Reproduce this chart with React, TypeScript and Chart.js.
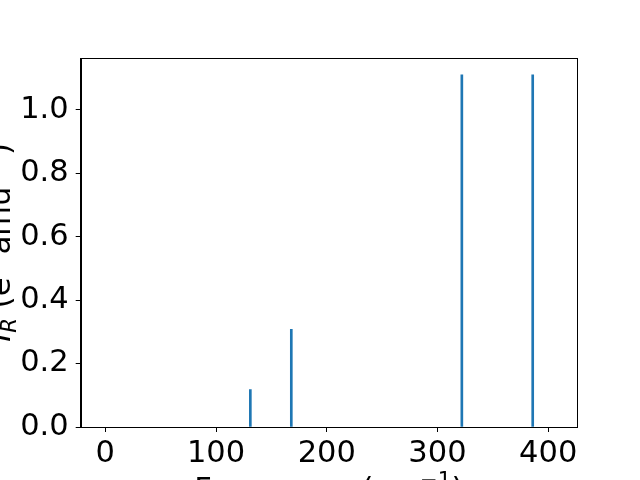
import React, { useEffect, useRef } from "react";
import { Chart, registerables } from "chart.js";

Chart.register(...registerables);

const frequencies = [131, 168, 322, 386];
const intensities = [0.118, 0.308, 1.11, 1.11];
const xTicks = [0, 100, 200, 300, 400];
const yTicks = [0, 0.2, 0.4, 0.6, 0.8, 1.0];
const xTitle = [
  { t: "Frequency (cm", m: "n" },
  { t: "\u22121", m: "sup" },
  { t: ")", m: "n" },
];
const yTitle = [
  { t: "I", m: "n", i: true },
  { t: "R", m: "sub", i: true },
  { t: " (e", m: "n" },
  { t: "2", m: "sup" },
  { t: " amu", m: "n" },
  { t: "\u22121", m: "sup" },
  { t: ")", m: "n" },
];

const FONT = "DejaVu Sans";
const FS = 30.5;

function segFont(s: any) {
  const size = s.m === "n" ? FS : FS * 0.7;
  return `${s.i ? "italic " : ""}${size}px "${FONT}"`;
}

function drawRich(ctx: CanvasRenderingContext2D, segs: any[], cx: number, baseY: number) {
  let total = 0;
  const widths = segs.map((s) => {
    ctx.font = segFont(s);
    const w = ctx.measureText(s.t).width;
    total += w;
    return w;
  });
  let x = cx - total / 2;
  ctx.textBaseline = "alphabetic";
  ctx.textAlign = "left";
  segs.forEach((s, i) => {
    ctx.font = segFont(s);
    let dy = 0;
    if (s.m === "sup") dy = -FS * 0.4;
    if (s.m === "sub") dy = FS * 0.2;
    ctx.fillText(s.t, x, baseY + dy);
    x += widths[i];
  });
}

const framePlugin = {
  id: "frame",
  afterDraw(chart: any) {
    const { ctx, chartArea: a } = chart;
    ctx.save();
    ctx.strokeStyle = "#000";
    ctx.lineWidth = 1;
    ctx.strokeRect(Math.round(a.left) + 0.5, Math.round(a.top) + 0.5, Math.round(a.right - a.left), Math.round(a.bottom - a.top));
    ctx.fillStyle = "#000";
    drawRich(ctx, xTitle, (a.left + a.right) / 2, 499);
    ctx.translate(10, (a.top + a.bottom) / 2);
    ctx.rotate(-Math.PI / 2);
    drawRich(ctx, yTitle, 0, 0);
    ctx.restore();
  },
};

export default function App() {
  const ref = useRef<HTMLCanvasElement | null>(null);
  useEffect(() => {
    const canvas = ref.current!;
    const chart = new Chart(canvas, {
      type: "bar",
      data: {
        datasets: [
          {
            data: frequencies.map((f, i) => ({ x: f, y: intensities[i] })),
            backgroundColor: "#1f77b4",
            borderWidth: 0,
            barThickness: 2,
          },
        ],
      },
      options: {
        animation: false,
        responsive: false,
        devicePixelRatio: 1,
        layout: { padding: { left: 0, top: 58, right: 63, bottom: 0 } },
        plugins: { legend: { display: false }, tooltip: { enabled: false } },
        scales: {
          x: {
            type: "linear",
            offset: false,
            min: -22.2,
            max: 426,
            afterBuildTicks: (s: any) => {
              s.ticks = xTicks.map((v) => ({ value: v }));
            },
            afterFit: (s: any) => {
              s.height = 53;
            },
            grid: { display: true, offset: false, drawOnChartArea: false, drawTicks: true, tickLength: 5, color: "#000", tickColor: "#000" },
            border: { display: true, color: "#000", width: 1 },
            ticks: { color: "#000", font: { family: FONT, size: FS }, padding: 4, maxRotation: 0, autoSkip: false, callback: (v: any) => String(v) },
          },
          y: {
            type: "linear",
            min: 0,
            max: 1.163,
            afterBuildTicks: (s: any) => {
              s.ticks = yTicks.map((v) => ({ value: v }));
            },
            afterFit: (s: any) => {
              s.width = 80.7;
            },
            grid: { display: true, offset: false, drawOnChartArea: false, drawTicks: true, tickLength: 5, color: "#000", tickColor: "#000" },
            border: { display: true, color: "#000", width: 1 },
            ticks: { color: "#000", font: { family: FONT, size: FS }, padding: 7, autoSkip: false, callback: (v: any) => Number(v).toFixed(1) },
          },
        },
      },
      plugins: [framePlugin],
    } as any);
    return () => chart.destroy();
  }, []);
  return (
    <div style={{ position: "absolute", left: 0, top: 0, width: 640, height: 480, background: "#fff" }}>
      <canvas ref={ref} width={640} height={480} style={{ display: "block" }} />
    </div>
  );
}
